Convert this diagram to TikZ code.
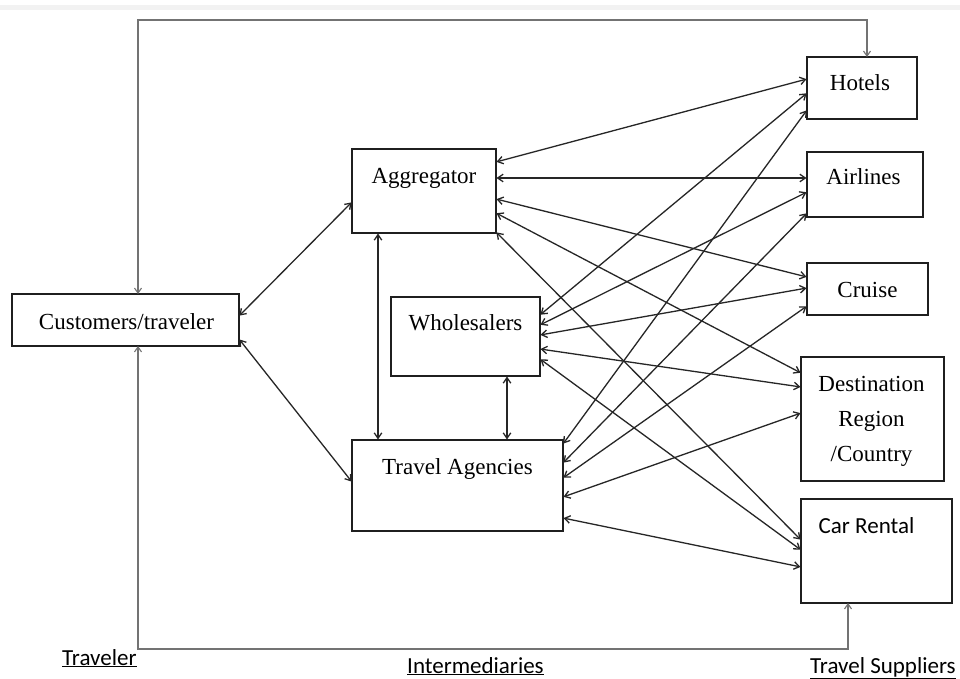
\documentclass[tikz,border=0pt]{standalone}
\usepackage{fontspec}
\setmainfont{Liberation Serif}
\newfontfamily\calib{Carlito}
\usetikzlibrary{arrows.meta,calc}
\begin{document}
\begin{tikzpicture}[x=1pt,y=-1pt,
  box/.style={draw=black!88, line width=1.6pt, anchor=north west, inner sep=0pt, outer sep=0pt},
  txt/.style={font=\fontsize{23}{27}\selectfont, inner sep=0pt, anchor=base},
  stxt/.style={font=\calib\fontsize{23}{27}\selectfont, inner sep=0pt, anchor=base},
  link/.style={draw=black!85, line width=1.3pt, shorten <=0.5pt, shorten >=0.5pt,
    {Straight Barb[length=5.5pt,width=7.5pt]}-{Straight Barb[length=5.5pt,width=7.5pt]}},
  loopline/.style={draw=black!55, line width=1.1pt,
    {Straight Barb[length=5pt,width=7pt]}-{Straight Barb[length=5pt,width=7pt]}}
]
\useasboundingbox (0,0) rectangle (960,679);
\fill[white] (0,0) rectangle (960,679);
\fill[black!5] (0,5) rectangle (960,10);

% boxes
\node[box, minimum width=227pt, minimum height=52pt,
  label={[txt, xshift=1pt, yshift=-35pt]north:Customers/traveler}] (cust) at (12,294) {};
\node[box, minimum width=144pt, minimum height=84pt,
  label={[txt, yshift=-34pt]north:Aggregator}] (agg) at (352,149) {};
\node[box, minimum width=149pt, minimum height=79pt,
  label={[txt, yshift=-33pt]north:Wholesalers}] (whole) at (391,297) {};
\node[box, minimum width=211pt, minimum height=91pt,
  label={[txt, yshift=-34pt]north:Travel Agencies}] (ta) at (352,440) {};
\node[box, minimum width=110pt, minimum height=62pt,
  label={[txt, xshift=-2pt, yshift=-34pt]north:Hotels}] (hot) at (807,57) {};
\node[box, minimum width=116pt, minimum height=65pt,
  label={[txt, xshift=-1.5pt, yshift=-33pt]north:Airlines}] (air) at (807,152) {};
\node[box, minimum width=121pt, minimum height=52pt,
  label={[txt, yshift=-34pt]north:Cruise}] (cru) at (807,263) {};
\node[box, minimum width=143pt, minimum height=124pt,
  label={[txt, xshift=-1pt, yshift=-34pt]north:Destination},
  label={[txt, xshift=-1pt, yshift=-69pt]north:Region},
  label={[txt, xshift=-1pt, yshift=-104pt]north:/Country}] (dest) at (801,357) {};
\node[box, minimum width=151pt, minimum height=104pt,
  label={[stxt, xshift=-10pt, yshift=-34pt]north:Car Rental}] (car) at (801,499) {};

% aggregator to suppliers
\draw[link] ($(agg.north east)+(0,13)$) -- ($(hot.north west)+(0,22)$);
\draw[link] ($(agg.north east)+(0,29)$) -- ($(air.north west)+(0,26)$);
\draw[link] ($(agg.north east)+(0,50)$) -- ($(cru.north west)+(0,14)$);
\draw[link] ($(agg.north east)+(0,64)$) -- ($(dest.north west)+(0,16)$);
\draw[link] ($(agg.north east)+(0,83)$) -- ($(car.north west)+(0,41)$);
% wholesalers to suppliers
\draw[link] ($(whole.north east)+(0,18)$) -- ($(hot.north west)+(0,36)$);
\draw[link] ($(whole.north east)+(0,28)$) -- ($(air.north west)+(0,40)$);
\draw[link] ($(whole.north east)+(0,38)$) -- ($(cru.north west)+(0,25)$);
\draw[link] ($(whole.north east)+(0,52)$) -- ($(dest.north west)+(0,30)$);
\draw[link] ($(whole.north east)+(0,62)$) -- ($(car.north west)+(0,51)$);
% travel agencies to suppliers
\draw[link] ($(ta.north east)+(0,4)$) -- ($(hot.north west)+(0,53)$);
\draw[link] ($(ta.north east)+(0,23)$) -- ($(air.north west)+(0,61)$);
\draw[link] ($(ta.north east)+(0,38)$) -- ($(cru.north west)+(0,43)$);
\draw[link] ($(ta.north east)+(0,57)$) -- ($(dest.north west)+(0,56)$);
\draw[link] ($(ta.north east)+(0,78)$) -- ($(car.north west)+(0,68)$);
% customers and intermediaries
\draw[link] ($(cust.north east)+(0,22)$) -- ($(agg.north west)+(0,53)$);
\draw[link] ($(cust.north east)+(0,45)$) -- ($(ta.north west)+(0,42)$);
\draw[link] ($(agg.south west)+(26,0)$) -- ($(ta.north west)+(26,0)$);
\draw[link] ($(whole.south west)+(116,0)$) -- ($(ta.north west)+(155,0)$);

% outer loops
\draw[loopline] ($(cust.north west)+(126,0)$) -- ++(0,-274) -| ($(hot.north west)+(60,0)$);
\draw[loopline] ($(cust.south west)+(126,0)$) -- ++(0,303) -| ($(car.south west)+(47,0)$);

% bottom labels
\node[stxt, anchor=base west] (ltrav) at (62,665) {\underline{Traveler}};
\node[stxt, anchor=base west] (linter) at (407,673) {\underline{Intermediaries}};
\node[stxt, anchor=base west] (lsupp) at (810,673) {\underline{Travel Suppliers}};
\end{tikzpicture}
\end{document}
